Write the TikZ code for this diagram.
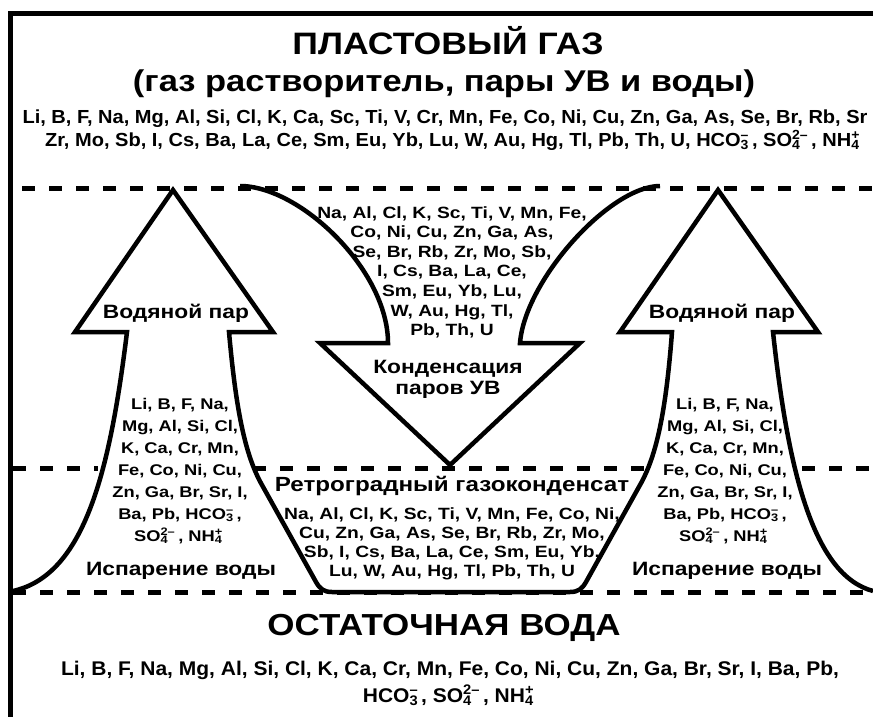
\documentclass[tikz,border=0pt]{standalone}
\usepackage{fontspec}
\setmainfont{Liberation Sans}
\newfontfamily\shapkafont{Liberation Sans}[FakeStretch=1.15]
\newfontfamily\spisokfont{Liberation Sans}[FakeStretch=1.06]
\newfontfamily\metkafont{Liberation Sans}[FakeStretch=1.18]
\usetikzlibrary{positioning}
\newcommand{\chemion}[3]{#1\makebox[0pt][l]{\textsubscript{#2}}\textsuperscript{#3}\kern3pt}

\begin{document}
\begin{tikzpicture}[
  x=1pt, y=-1pt,
  ramka/.style={line width=5pt},
  kontur/.style={line width=4.5pt, line join=miter},
  granica/.style={line width=5pt, dash pattern=on 13pt off 14pt},
  shapka/.style={font=\shapkafont\bfseries\fontsize{31}{37}\selectfont, inner sep=0pt, anchor=base, align=center},
  spisok/.style={font=\spisokfont\bfseries\fontsize{18.9}{26}\selectfont, inner sep=0pt, anchor=base, align=center},
  metka/.style={font=\metkafont\bfseries\fontsize{19.3}{22}\selectfont, inner sep=0pt, anchor=base, align=center},
  sostav/.style={font=\metkafont\bfseries\fontsize{16.3}{19.6}\selectfont, inner sep=0pt, anchor=base, align=center},
]
\useasboundingbox (0,0) rectangle (873,717);

% ---- Рамка ----
\draw[ramka] (10.5,717) -- (10.5,13.5) -- (873,13.5);

% ---- Границы зон ----
\draw[granica] (22,188) -- (873,188);
\draw[granica] (13,468) -- (98,468);
\draw[granica] (253,468) -- (644,468);
\draw[granica] (802,468) -- (873,468);
\draw[granica] (13,592) -- (873,592);

% ---- Стрелки испарения и ретроградная ванна ----
\draw[kontur] (13,591) .. controls (85,575) and (110,470) .. (127,332)
  -- (75,332) -- (173,190) -- (273,332) -- (229,332)
  .. controls (236,410) and (245,455) .. (262,485) -- (316,582)
  .. controls (320,589) and (324,592) .. (332,592) -- (570,592)
  .. controls (578,592) and (582,589) .. (586,582) -- (640,485)
  .. controls (657,455) and (666,410) .. (672,332)
  -- (620,332) -- (718,190) -- (818,332) -- (773,332)
  .. controls (788,470) and (813,575) .. (873,591);

% ---- Стрелка конденсации ----
\draw[kontur] (240,186) .. controls (300,186) and (388,270) .. (388,343)
  -- (320,343) -- (450,465) -- (580,343) -- (520,343)
  .. controls (525,280) and (610,186) .. (660,186);

% ---- Пластовый газ ----
\node[shapka] (plast) at (448,55) {ПЛАСТОВЫЙ ГАЗ};
\node[shapka, font=\shapkafont\bfseries\fontsize{30}{37}\selectfont] (plastsost) at (444,92) {(газ растворитель, пары УВ и воды)};
\node[spisok] (gazsost) at (445,123)
  {Li, B, F, Na, Mg, Al, Si, Cl, K, Ca, Sc, Ti, V, Cr, Mn, Fe, Co, Ni, Cu, Zn, Ga, As, Se, Br, Rb, Sr};
\node[spisok] (gazsostb) at (454,146)
  {Zr, Mo, Sb, I, Cs, Ba, La, Ce, Sm, Eu, Yb, Lu, W, Au, Hg, Tl, Pb, Th, U, \chemion{HCO}{3}{–}, \chemion{SO}{4}{2–}, \chemion{NH}{4}{+}};

% ---- Конденсация ----
\node[sostav] (kondsost) at (452,335.6)
  {Na, Al, Cl, K, Sc, Ti, V, Mn, Fe,\\Co, Ni, Cu, Zn, Ga, As,\\Se, Br, Rb, Zr, Mo, Sb,\\I, Cs, Ba, La, Ce,\\Sm, Eu, Yb, Lu,\\W, Au, Hg, Tl,\\Pb, Th, U};
\node[metka, font=\metkafont\bfseries\fontsize{19.3}{21}\selectfont] (kond) at (448,394) {Конденсация\\паров УВ};

% ---- Водяной пар ----
\node[metka] (parL) at (176,318) {Водяной пар};
\node[metka] (parR) at (722,318) {Водяной пар};
\node[sostav, font=\metkafont\bfseries\fontsize{15.5}{22}\selectfont] (isparsostL) at (180,541)
  {Li, B, F, Na,\\Mg, Al, Si, Cl,\\K, Ca, Cr, Mn,\\Fe, Co, Ni, Cu,\\Zn, Ga, Br, Sr, I,\\Ba, Pb, \chemion{HCO}{3}{–},\\\chemion{SO}{4}{2–}, \chemion{NH}{4}{+}};
\node[sostav, font=\metkafont\bfseries\fontsize{15.5}{22}\selectfont] (isparsostR) at (725,541)
  {Li, B, F, Na,\\Mg, Al, Si, Cl,\\K, Ca, Cr, Mn,\\Fe, Co, Ni, Cu,\\Zn, Ga, Br, Sr, I,\\Ba, Pb, \chemion{HCO}{3}{–},\\\chemion{SO}{4}{2–}, \chemion{NH}{4}{+}};
\node[metka] (isparL) at (181,575) {Испарение воды};
\node[metka] (isparR) at (727,575) {Испарение воды};

% ---- Ретроградный газоконденсат ----
\node[metka, font=\metkafont\bfseries\fontsize{20.5}{22}\selectfont] (retro) at (452,491) {Ретроградный газоконденсат};
\node[sostav, font=\metkafont\bfseries\fontsize{16.3}{19}\selectfont] (retrosost) at (452,576)
  {Na, Al, Cl, K, Sc, Ti, V, Mn, Fe, Co, Ni,\\Cu, Zn, Ga, As, Se, Br, Rb, Zr, Mo,\\Sb, I, Cs, Ba, La, Ce, Sm, Eu, Yb,\\Lu, W, Au, Hg, Tl, Pb, Th, U};

% ---- Остаточная вода ----
\node[shapka, font=\shapkafont\bfseries\fontsize{30.4}{37}\selectfont] (ostat) at (444,635) {ОСТАТОЧНАЯ ВОДА};
\node[spisok, font=\spisokfont\bfseries\fontsize{19.8}{27}\selectfont] (vodasost) at (450,702)
  {Li, B, F, Na, Mg, Al, Si, Cl, K, Ca, Cr, Mn, Fe, Co, Ni, Cu, Zn, Ga, Br, Sr, I, Ba, Pb,\\
   \chemion{HCO}{3}{–}, \chemion{SO}{4}{2–}, \chemion{NH}{4}{+}};

\end{tikzpicture}
\end{document}
